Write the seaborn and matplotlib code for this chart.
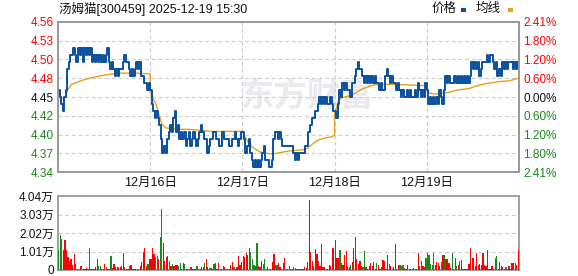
import numpy as np
import pandas as pd
import matplotlib
matplotlib.use("Agg")
import matplotlib.pyplot as plt
from matplotlib.patches import Rectangle
import seaborn as sns

# ---------------- data ----------------
title = "汤姆猫[300459] 2025-12-19 15:30"
day_labels = ["12月16日", "12月17日", "12月18日", "12月19日"]
pre_close = 4.45
range_pct = 2.41
price_tick_labels = ["4.56", "4.53", "4.50", "4.48", "4.45", "4.42", "4.40", "4.37", "4.34"]
pct_tick_labels = ["2.41%", "1.80%", "1.20%", "0.60%", "0.00%", "0.60%", "1.20%", "1.80%", "2.41%"]
vol_tick_values = [0, 1.01, 2.02, 3.03, 4.04]
vol_tick_labels = ["0", "1.01万", "2.02万", "3.03万", "4.04万"]

step_minutes = 4          # one sample every 4 trading minutes
day_minutes = 240

price_d1 = [4.46,4.45,4.44,4.43,4.45,4.46,4.49,4.50,4.51,4.51,
            4.52,4.51,4.50,4.52,4.51,4.52,4.50,4.52,4.51,4.52,
            4.51,4.52,4.50,4.51,4.50,4.51,4.50,4.51,4.50,4.51,
            4.50,4.51,4.52,4.50,4.49,4.50,4.49,4.48,4.49,4.48,
            4.49,4.49,4.50,4.51,4.50,4.50,4.49,4.48,4.49,4.48,
            4.49,4.50,4.49,4.50,4.48,4.48,4.47,4.47,4.46,4.47]
price_d2 = [4.46,4.44,4.43,4.42,4.43,4.42,4.41,4.39,4.37,4.38,
            4.37,4.39,4.40,4.41,4.40,4.42,4.43,4.40,4.41,4.39,
            4.40,4.39,4.40,4.38,4.39,4.40,4.38,4.39,4.40,4.39,
            4.38,4.39,4.40,4.41,4.40,4.39,4.39,4.37,4.38,4.39,
            4.39,4.40,4.40,4.39,4.39,4.38,4.38,4.40,4.39,4.39,
            4.39,4.38,4.38,4.39,4.39,4.40,4.39,4.38,4.39,4.40]
price_d3 = [4.40,4.39,4.37,4.38,4.39,4.37,4.36,4.35,4.36,4.35,
            4.36,4.35,4.36,4.37,4.38,4.36,4.36,4.35,4.35,4.36,
            4.39,4.40,4.40,4.39,4.40,4.39,4.38,4.38,4.38,4.38,
            4.38,4.38,4.38,4.37,4.36,4.37,4.36,4.37,4.37,4.37,
            4.37,4.38,4.38,4.40,4.41,4.42,4.42,4.43,4.43,4.44,
            4.45,4.44,4.45,4.44,4.45,4.44,4.44,4.45,4.44,4.43]
price_d4 = [4.43,4.42,4.44,4.46,4.45,4.47,4.46,4.47,4.46,4.46,
            4.45,4.47,4.47,4.48,4.49,4.50,4.49,4.49,4.48,4.47,
            4.48,4.47,4.48,4.47,4.48,4.47,4.48,4.47,4.47,4.46,
            4.47,4.46,4.46,4.48,4.49,4.48,4.47,4.48,4.47,4.47,
            4.46,4.47,4.46,4.45,4.46,4.45,4.45,4.46,4.45,4.46,
            4.45,4.45,4.46,4.45,4.47,4.46,4.45,4.46,4.45,4.47]
price_d5 = [4.46,4.44,4.45,4.44,4.45,4.44,4.45,4.44,4.46,4.45,
            4.44,4.46,4.48,4.47,4.48,4.47,4.47,4.47,4.48,4.47,
            4.48,4.47,4.48,4.47,4.48,4.47,4.48,4.47,4.48,4.50,
            4.49,4.50,4.49,4.50,4.48,4.49,4.50,4.50,4.50,4.51,
            4.50,4.51,4.51,4.50,4.49,4.50,4.48,4.49,4.48,4.50,
            4.49,4.50,4.49,4.50,4.50,4.50,4.49,4.50,4.49,4.50]

avg_d1_min = [0, 10, 20, 25, 35, 50, 70, 100, 130, 160, 200, 240]
avg_d1 = [4.460, 4.447, 4.450, 4.460, 4.468, 4.471, 4.475, 4.479, 4.482, 4.484, 4.484, 4.483]
avg_d2_min = [0, 5, 15, 20, 30, 40, 60, 80, 100, 120, 140, 160, 200, 240]
avg_d2 = [4.458, 4.450, 4.440, 4.430, 4.412, 4.406, 4.405, 4.404, 4.404, 4.403, 4.402, 4.401, 4.401, 4.401]
avg_d3_min = [0, 10, 20, 30, 45, 60, 80, 100, 120, 140, 160, 170, 180, 195, 210, 230, 240]
avg_d3 = [4.400, 4.390, 4.382, 4.377, 4.372, 4.370, 4.369, 4.371, 4.373, 4.374, 4.375, 4.377, 4.382, 4.388, 4.391, 4.393, 4.395]
avg_d4_min = [0, 5, 10, 20, 40, 55, 70, 85, 100, 130, 160, 200, 240]
avg_d4 = [4.427, 4.435, 4.445, 4.449, 4.452, 4.456, 4.461, 4.464, 4.467, 4.468, 4.468, 4.467, 4.466]
avg_d5_min = [0, 5, 20, 40, 60, 80, 110, 125, 145, 165, 190, 215, 240]
avg_d5 = [4.460, 4.456, 4.454, 4.455, 4.457, 4.460, 4.462, 4.465, 4.468, 4.470, 4.472, 4.473, 4.477]

# volume in 万 shares, direction +1 = up (red), -1 = down (green)
vol_d1 = [1.12,1.90,1.68,1.12,1.63,1.08,0.71,0.52,0.62,0.25,
          0.90,0.34,0.08,0.06,0.24,0.20,0.08,0.05,0.10,0.05,
          1.18,0.06,0.05,0.05,0.15,0.62,0.22,0.22,0.05,0.05,
          0.34,0.18,0.04,0.04,0.78,0.10,0.34,0.15,0.18,0.18,
          0.15,0.20,0.93,0.15,0.05,0.05,0.24,0.30,0.04,0.04,
          0.04,0.04,0.05,0.24,0.43,1.00,1.18,0.24,0.34,0.62]
dir_d1 = [-1,-1,-1,1,1,1,1,1,1,1, 1,1,1,1,1,1,1,1,1,1,
          -1,1,1,1,1,1,-1,-1,1,1, 1,1,1,1,-1,1,1,1,-1,1,
          1,1,1,1,1,1,-1,1,1,1, 1,1,1,1,1,1,1,1,-1,1]
vol_d2 = [0.62,1.18,0.90,0.71,0.75,0.62,1.80,3.36,1.46,0.52,
          0.71,0.75,0.52,0.24,0.34,0.24,0.30,0.30,0.20,0.37,
          0.05,0.39,0.34,0.05,0.05,0.05,0.18,0.05,0.05,0.05,
          0.22,0.05,0.05,0.15,0.18,0.41,0.58,0.15,0.10,0.10,
          0.08,0.34,0.39,0.05,0.39,0.05,0.05,0.22,0.15,0.05,
          0.05,0.05,0.30,0.45,0.18,0.05,0.18,0.78,0.30,0.43]
dir_d2 = [1,1,1,-1,-1,1,-1,-1,1,1, 1,1,-1,1,-1,1,1,1,-1,-1,
          1,1,-1,1,1,1,1,1,1,1, -1,1,1,1,1,-1,1,1,-1,-1,
          1,-1,1,1,1,1,1,1,1,1, 1,1,1,1,-1,1,1,1,1,1]
vol_d3 = [0.75,0.71,0.93,0.84,1.18,1.00,0.62,0.30,0.24,1.46,
          0.24,0.15,0.52,0.34,0.62,0.05,0.18,0.05,0.05,0.43,
          0.90,0.30,0.30,0.37,0.15,0.05,0.39,0.67,0.05,0.05,
          0.22,0.05,0.05,0.15,0.10,0.04,0.04,0.04,0.04,0.04,
          0.18,0.10,0.43,3.81,0.99,0.52,0.24,1.16,0.90,0.48,
          0.24,1.40,0.15,0.18,0.05,0.05,0.28,0.24,1.18,1.18]
dir_d3 = [1,1,1,1,-1,-1,-1,-1,1,-1, 1,1,1,-1,-1,1,1,1,1,1,
          1,-1,-1,1,1,1,1,1,1,1, 1,1,1,-1,-1,1,1,1,1,1,
          1,1,1,1,1,1,1,1,1,1, 1,1,1,1,1,1,1,1,1,1]
vol_d4 = [1.64,0.67,0.67,1.12,0.37,0.30,0.80,1.05,0.24,0.15,
          0.30,0.43,1.18,1.80,0.62,0.34,0.52,0.24,0.15,1.05,
          0.15,0.05,0.20,0.39,0.24,0.43,0.05,0.37,0.30,0.05,
          0.15,0.56,0.52,0.05,0.84,0.34,0.22,0.05,0.15,1.40,
          0.05,0.28,0.28,0.22,0.28,0.10,0.05,0.28,0.04,0.04,
          0.04,0.10,0.05,0.05,0.95,0.24,0.52,0.24,0.15,0.67]
dir_d4 = [1,1,1,-1,1,1,1,1,1,1, -1,1,1,1,1,1,1,1,-1,-1,
          1,1,1,1,1,1,1,-1,1,1, 1,1,1,1,1,1,1,1,1,1,
          1,1,-1,-1,-1,1,1,1,1,1, 1,1,1,1,1,1,1,1,1,-1]
vol_d5 = [0.93,0.80,0.34,0.30,0.93,0.30,0.45,0.41,0.20,0.45,
          0.84,0.84,0.62,0.62,0.41,0.10,0.95,0.08,0.67,0.24,
          0.30,0.52,0.56,0.05,0.05,0.05,0.05,0.34,1.18,0.67,
          0.67,0.20,0.95,0.28,0.34,0.28,0.95,0.30,0.24,1.12,
          0.05,0.05,0.22,0.05,0.65,0.78,0.05,0.43,0.24,0.15,
          0.05,0.15,0.04,0.22,0.05,0.37,0.37,0.39,0.30,1.12]
dir_d5 = [-1,-1,-1,-1,-1,1,1,1,1,-1, 1,-1,1,1,1,1,-1,1,1,-1,
          1,-1,1,1,1,1,1,1,1,1, 1,1,1,1,1,1,1,1,1,1,
          1,1,1,1,-1,-1,1,1,1,1, 1,-1,1,1,1,1,1,-1,1,1]

price_days = [price_d1, price_d2, price_d3, price_d4, price_d5]
avg_days = [(avg_d1_min, avg_d1), (avg_d2_min, avg_d2), (avg_d3_min, avg_d3),
            (avg_d4_min, avg_d4), (avg_d5_min, avg_d5)]
vol_days = [(vol_d1, dir_d1), (vol_d2, dir_d2), (vol_d3, dir_d3), (vol_d4, dir_d4), (vol_d5, dir_d5)]

# ---------------- tables ----------------
n_days = len(price_days)
pt, pv = [], []
for d, day in enumerate(price_days):
    for i, p in enumerate(day):
        pt.append(d * day_minutes + i * step_minutes)
        pv.append(p)
pt.append(n_days * day_minutes)
pv.append(price_days[-1][-1])
price_df = pd.DataFrame({"t": pt, "price": pv})

at, av = [], []
for d, (mins, vals) in enumerate(avg_days):
    for m, v in zip(mins, vals):
        at.append(d * day_minutes + m)
        av.append(v)
avg_df = pd.DataFrame({"t": at, "avg": av})

vt, vv, vd = [], [], []
for d, (vols, dirs) in enumerate(vol_days):
    for i, (v, s) in enumerate(zip(vols, dirs)):
        vt.append(d * day_minutes + i * step_minutes + step_minutes / 2)
        vv.append(v)
        vd.append(s)
vol_df = pd.DataFrame({"t": vt, "vol": vv, "dir": vd})

# ---------------- style ----------------
sns.set_theme(style="white")
plt.rcParams["font.family"] = ["Liberation Sans", "Noto Sans CJK SC", "DejaVu Sans"]
plt.rcParams["axes.unicode_minus"] = False

BLUE = "#0a50a0"
ORANGE = "#e3a21a"
RED = "#ff0000"
GREEN = "#1a8a1a"
BORDER = "#9a9a9a"
GRID = "#cccccc"
TXT = "#111111"
dash = (0, (3.5, 2.5))

W, H = 578, 276
fig = plt.figure(figsize=(W / 100, H / 100), dpi=100)
fig.patch.set_facecolor("white")
ax = fig.add_axes([58 / W, 1 - 172.3 / H, 461 / W, 150.6 / H])
axv = fig.add_axes([58 / W, 1 - 270 / H, 461 / W, 73.7 / H])

half = pre_close * range_pct / 100
lo, hi = pre_close - half, pre_close + half
levels = np.linspace(hi, lo, len(price_tick_labels))
total = n_days * day_minutes

# watermark
ax.text((307 - 58) / 461 * total, pre_close, "东方财富", fontsize=24, fontweight="bold",
        color="#e9e9ee", ha="center", va="center", zorder=0)

sns.lineplot(data=avg_df, x="t", y="avg", ax=ax, color=ORANGE, linewidth=1.0,
             estimator=None, sort=False, zorder=3)
sns.lineplot(data=price_df, x="t", y="price", ax=ax, color=BLUE, linewidth=1.4,
             estimator=None, sort=False, drawstyle="steps-post", zorder=4)

ax.set_xlim(0, total)
ax.set_ylim(lo, hi)
ax.set_xlabel("")
ax.set_ylabel("")
ax.set_xticks([day_minutes * (k + 1) for k in range(len(day_labels))])
ax.set_xticklabels(day_labels, fontsize=9, color=TXT)
ax.set_yticks(levels)
ax.set_yticklabels(price_tick_labels, fontsize=8.5)
ax.tick_params(axis="both", length=0)
ax.tick_params(axis="x", pad=3)
ax.tick_params(axis="y", pad=3)
ax.grid(True, color=GRID, linestyle=dash, linewidth=0.8)
mid = len(levels) // 2
label_colors = [RED] * mid + [TXT] + [GREEN] * mid
for lbl, c in zip(ax.get_yticklabels(), label_colors):
    lbl.set_color(c)

ax2 = ax.twinx()
ax2.set_ylim(lo, hi)
ax2.set_yticks(levels)
ax2.set_yticklabels(pct_tick_labels, fontsize=8.5)
ax2.tick_params(axis="y", length=0, pad=3)
ax2.grid(False)
for lbl, c in zip(ax2.get_yticklabels(), label_colors):
    lbl.set_color(c)

for a in (ax, ax2, axv):
    for s in a.spines.values():
        s.set_color(BORDER)
        s.set_linewidth(1.3)
        s.set_visible(True)

# volume
bar_colors = [RED if s > 0 else GREEN for s in vol_df["dir"]]
axv.bar(vol_df["t"], vol_df["vol"], width=3.2, color=bar_colors, linewidth=0, zorder=3)
axv.set_xlim(0, total)
axv.set_ylim(0, vol_tick_values[-1])
axv.set_xticks([])
axv.set_yticks(vol_tick_values)
axv.set_yticklabels(vol_tick_labels, fontsize=8.5, color=TXT)
axv.tick_params(axis="y", length=0, pad=3)
axv.grid(True, axis="y", color=GRID, linestyle=dash, linewidth=0.8)
axv.grid(False, axis="x")

# header
fig.text(59 / W, 1 - 8.5 / H, title, fontsize=9, color=TXT, ha="left", va="center")
fig.text(432 / W, 1 - 9 / H, "价格", fontsize=9, color=TXT, ha="left", va="center")
fig.text(476 / W, 1 - 9 / H, "均线", fontsize=9, color=TXT, ha="left", va="center")
fig.add_artist(Rectangle((461 / W, 1 - 12 / H), 4.5 / W, 4 / H, transform=fig.transFigure,
                         facecolor=BLUE, edgecolor="none"))
fig.add_artist(Rectangle((508 / W, 1 - 12 / H), 4.5 / W, 4 / H, transform=fig.transFigure,
                         facecolor=ORANGE, edgecolor="none"))

fig.savefig("out.png", dpi=100, facecolor="white")
